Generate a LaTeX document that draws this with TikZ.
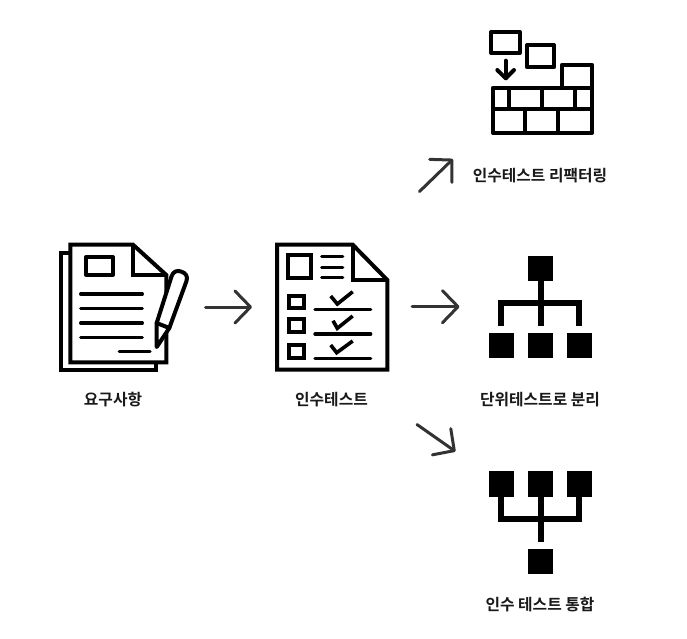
\documentclass[tikz,border=0pt]{standalone}
\usepackage{fontspec}
\usetikzlibrary{arrows.meta}
\newfontfamily\krfont[Scale=1]{Noto Sans CJK KR}[BoldFont={Noto Sans CJK KR Bold}]
\tikzset{
  ic/.style={line width=4pt,draw=black,line join=miter},
  icr/.style={line width=4pt,draw=black,line join=round,line cap=round},
  thin line/.style={line width=3.4pt,draw=black,line cap=round},
  solidsq/.style={fill=black,draw=none},
  tree/.style={line width=6pt,draw=black,line join=miter},
  flow/.style={line width=3pt,draw=black!80,line cap=round,line join=miter,-{Straight Barb[length=15.5pt,width=32pt,line width=3pt,round]}},
  lbl/.style={font=\krfont\bfseries\fontsize{15.8}{18}\selectfont,text=black!90,inner sep=0pt,anchor=center}
}
\begin{document}
\begin{tikzpicture}[x=1pt,y=-1pt]
\useasboundingbox (0,0) rectangle (687,638);
% requirements icon
\draw[ic] (70.3,252.7) -- (61.3,252.7) -- (61.3,369.7) -- (156.3,369.7) -- (156.3,362.3);
\draw[ic,fill=white] (70.3,244.7) -- (133,244.7) -- (166.3,275) -- (166.3,362.3) -- (70.3,362.3) -- cycle;
\draw[ic] (133,244.7) -- (133,275) -- (166.3,275);
\draw[ic,line cap=round,line join=round] (86,257) rectangle (113,274.7);
\foreach \y in {294,308.3,323,337.3} \draw[thin line] (80.7,\y) -- (142.3,\y);
\draw[thin line] (119.3,351.3) -- (150,351.3);
\draw[icr,fill=white] (156.7,347) -- (156.7,323) -- (171.5,276.5) .. controls (173,271.5) and (177,270) .. (181,271.5) .. controls (186,273) and (188,276.5) .. (186.5,281) -- (169.3,328) -- cycle;
\draw[icr] (156.7,323) -- (169.3,328);
% acceptance test icon
\draw[ic] (277,244.7) -- (352.7,244.7) -- (387.3,280) -- (387.3,369.7) -- (277,369.7) -- cycle;
\draw[ic] (352.7,244.7) -- (352.7,280) -- (387.3,280);
\draw[ic] (288,255.3) rectangle (310.7,278);
\foreach \y in {256.7,267.3,277.7} \draw[thin line] (321.7,\y) -- (342.7,\y);
\draw[ic] (289,295.5) rectangle (304,307.5);
\draw[ic] (289,318.5) rectangle (304,331.5);
\draw[ic] (289,345) rectangle (304,358);
\foreach \y in {309.3,334,358.3} \draw[thin line] (315,\y) -- (370.7,\y);
\draw[ic,line width=3.6pt] (330.7,296) -- (337.3,304) -- (352.7,291.7);
\draw[ic,line width=3.6pt] (333,320.7) -- (337.3,328.3) -- (352.7,316);
\draw[ic,line width=3.6pt] (330.7,345) -- (336.7,352.7) -- (352.7,341);
% refactoring icon
\draw[ic,line join=round] (491.3,32) rectangle (519.7,53);
\draw[ic,line join=round] (527,45.3) rectangle (554,67.3);
\draw[ic,line join=round] (562,64.7) rectangle (592,87.7);
\draw[ic,line join=round] (493,87.7) rectangle (592,133);
\draw[ic] (493,109.3) -- (592,109.3);
\foreach \x in {509,542.3,575} \draw[ic] (\x,87.7) -- (\x,109.3);
\foreach \x in {525,558.3} \draw[ic] (\x,109.3) -- (\x,133);
\draw[icr] (505.7,60.7) -- (505.7,78.3);
\draw[icr] (497.3,70) -- (505.7,78.3) -- (514,70);
% split icon
\node[solidsq,minimum width=25.6pt,minimum height=25.4pt,inner sep=0pt] (st) at (540.5,268.3) {};
\node[solidsq,minimum width=25.6pt,minimum height=25.6pt,inner sep=0pt] (sa) at (501.6,345.5) {};
\node[solidsq,minimum width=25.6pt,minimum height=25.6pt,inner sep=0pt] (sb) at (540.5,345.5) {};
\node[solidsq,minimum width=25.6pt,minimum height=25.6pt,inner sep=0pt] (sc) at (579.5,345.5) {};
\draw[tree] (st.south) -- (540.5,326);
\draw[tree] (501.4,326) -- (501.4,303.3) -- (579.4,303.3) -- (579.4,326);
% merge icon
\node[solidsq,minimum width=25.6pt,minimum height=25.6pt,inner sep=0pt] (ma) at (501.6,483.8) {};
\node[solidsq,minimum width=25.6pt,minimum height=25.6pt,inner sep=0pt] (mb) at (540.5,483.8) {};
\node[solidsq,minimum width=25.6pt,minimum height=25.6pt,inner sep=0pt] (mc) at (579.5,483.8) {};
\node[solidsq,minimum width=25.6pt,minimum height=25.4pt,inner sep=0pt] (mt) at (540.5,561.7) {};
\draw[tree] (mb.south) -- (540.5,541.7);
\draw[tree] (501.4,496) -- (501.4,519.3) -- (579.4,519.3) -- (579.4,496);
% flow arrows
\coordinate (a1s) at (205.5,307);
\coordinate (a1e) at (252,307);
\coordinate (a2s) at (412,306.7);
\coordinate (a2e) at (459.5,306.7);
\coordinate (a3s) at (419.5,191.5);
\coordinate (a3e) at (453,159);
\coordinate (a4s) at (417,424.5);
\coordinate (a4e) at (455.5,451.5);
\draw[flow] (a1s) -- (a1e);
\draw[flow] (a2s) -- (a2e);
\draw[flow] (a3s) -- (a3e);
\draw[flow] (a4s) -- (a4e);
% labels
\node[lbl] (l1) at (113,399.8) {요구사항};
\node[lbl] (l2) at (331.5,399.8) {인수테스트};
\node[lbl] (l3) at (540,175.3) {인수테스트 리팩터링};
\node[lbl] (l4) at (540,399.8) {단위테스트로 분리};
\node[lbl] (l5) at (540,604.8) {인수 테스트 통합};
\end{tikzpicture}
\end{document}
